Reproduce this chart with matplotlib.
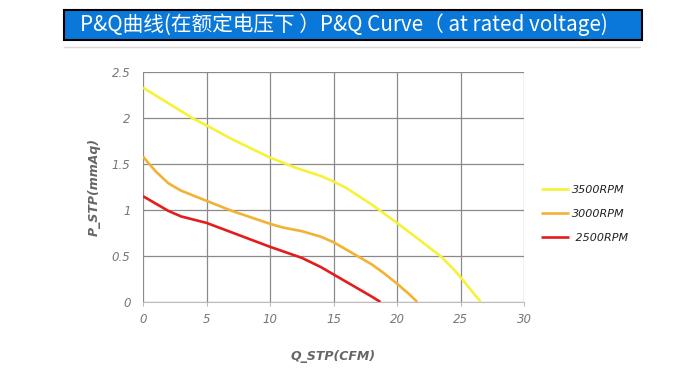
import matplotlib
matplotlib.use("Agg")
import matplotlib.pyplot as plt
from matplotlib.patches import Rectangle
from matplotlib.lines import Line2D

# Data
q_3500 = [0, 2, 4, 5, 7, 10, 12, 14, 15, 16, 18, 20, 22, 23.5, 24.5, 25, 26, 26.6]
p_3500 = [2.33, 2.16, 1.99, 1.92, 1.77, 1.57, 1.46, 1.37, 1.31, 1.24, 1.06, 0.86, 0.65, 0.49, 0.35, 0.27, 0.10, 0.0]

q_3000 = [0, 1, 2, 3, 5, 7, 10, 11, 12.5, 14, 15, 16, 17, 18, 19, 20, 21, 21.6]
p_3000 = [1.58, 1.42, 1.29, 1.21, 1.10, 0.99, 0.85, 0.81, 0.77, 0.71, 0.65, 0.57, 0.49, 0.41, 0.31, 0.20, 0.08, 0.0]

q_2500 = [0, 1, 2, 3, 5, 7.5, 10, 12.5, 14, 15, 16, 17, 18, 18.7]
p_2500 = [1.15, 1.07, 0.99, 0.93, 0.86, 0.73, 0.60, 0.48, 0.38, 0.30, 0.22, 0.14, 0.06, 0.0]

series_labels = ["3500RPM", "3000RPM", " 2500RPM"]
series_colors = ["#f5f238", "#f2b233", "#e41c1c"]

x_ticks = [0, 5, 10, 15, 20, 25, 30]
y_ticks = [0, 0.5, 1, 1.5, 2, 2.5]
y_tick_labels = ["0", "0.5", "1", "1.5", "2", "2.5"]

title_text = "P&Q曲线(在额定电压下 ）P&Q Curve（ at rated voltage)"

plt.rcParams['font.family'] = ['Noto Sans CJK SC', 'DejaVu Sans']

fig = plt.figure(figsize=(6.8, 3.8), dpi=100)
fig.patch.set_facecolor("white")

# Title banner
fig.patches.append(Rectangle((64/680, 1-40/380), (642-64)/680, 30/380, transform=fig.transFigure,
                             facecolor="#0a78d8", edgecolor="black", linewidth=1.5, zorder=1))
fig.text(80/680, 1-25/380, title_text, color="white", fontsize=14.9, va="center", ha="left",
         family=['Noto Sans CJK SC', 'DejaVu Sans'], zorder=2)
fig.add_artist(Line2D([64/680, 640/680], [1-47/380, 1-47/380], transform=fig.transFigure,
                      color="#d8d8d8", linewidth=1))

ax = fig.add_axes([143/680, 78/380, (524-143)/680, (302-72)/380])
series = [(q_3500, p_3500), (q_3000, p_3000), (q_2500, p_2500)]
for (q, p), lab, col in zip(series, series_labels, series_colors):
    ax.plot(q, p, color=col, linewidth=1.9, label=lab, zorder=3, solid_capstyle="butt")

ax.set_xlim(0, 30)
ax.set_ylim(0, 2.5)
ax.set_xticks(x_ticks)
ax.set_yticks(y_ticks)
ax.set_yticklabels(y_tick_labels)
ax.grid(True, color="#8a8a8a", linewidth=0.9)
for s in ["top", "right", "left"]:
    ax.spines[s].set_visible(False)
ax.spines["bottom"].set_color("#bdbdbd")
ax.tick_params(axis="y", length=0, pad=9, labelsize=8.5, labelcolor="#777777")
ax.tick_params(axis="x", length=3, color="#bdbdbd", pad=5, labelsize=8.5, labelcolor="#777777")
for t in ax.get_xticklabels() + ax.get_yticklabels():
    t.set_fontstyle("italic")
    t.set_family("DejaVu Sans")

ax.set_xlabel("Q_STP(CFM)", fontsize=9, fontweight="bold", fontstyle="italic", color="#666666",
              labelpad=17, family="DejaVu Sans")
ax.set_ylabel("P_STP(mmAq)", fontsize=9, fontweight="bold", fontstyle="italic", color="#666666",
              labelpad=8, family="DejaVu Sans")

leg = fig.legend(loc="upper left", bbox_to_anchor=(531/680, 1-175/380), frameon=False,
                 handlelength=2.5, handletextpad=0.3, labelspacing=1.25,
                 prop={"family": "DejaVu Sans", "style": "italic", "size": 8})
for t in leg.get_texts():
    t.set_color("#222222")

fig.savefig("out.png", dpi=100, facecolor="white")
